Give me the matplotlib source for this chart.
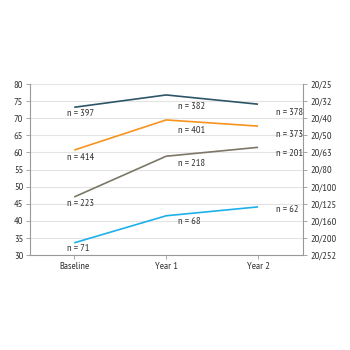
import matplotlib
matplotlib.use("Agg")
import matplotlib.pyplot as plt

categories = ["Baseline", "Year 1", "Year 2"]
dark_vals = [73.2, 76.8, 74.1]
orange_vals = [60.7, 69.5, 67.7]
gray_vals = [47.0, 58.9, 61.5]
blue_vals = [33.6, 41.5, 44.1]
dark_n = ["n=397", "n=382", "n=378"]
orange_n = ["n=414", "n=401", "n=373"]
gray_n = ["n=223", "n=218", "n=201"]
blue_n = ["n=71", "n=68", "n=62"]
left_ticks = [30, 35, 40, 45, 50, 55, 60, 65, 70, 75, 80]
right_labels = ["20/252", "20/200", "20/160", "20/125", "20/100", "20/80",
                "20/63", "20/50", "20/40", "20/32", "20/25"]

plt.rcParams['font.family'] = ['PT Sans Narrow', 'DejaVu Sans']

fig = plt.figure(figsize=(3.5, 3.5), dpi=100)
ax = fig.add_axes([0.086, 0.271, 0.780, 0.489])

series = [
    (dark_vals, dark_n, "#2d5568"),
    (orange_vals, orange_n, "#f7931e"),
    (gray_vals, gray_n, "#7d7768"),
    (blue_vals, blue_n, "#1eb0ea"),
]
xs = list(range(len(categories)))
# label x offsets per category (data units)
label_x = [-0.08, 1.13, 2.2]
# label vertical offsets per category / series (data units)
label_dy = {
    0: [-1.7, -2.2, -1.9, -1.8],
    1: [-3.5, -3.2, -2.0, -1.6],
    2: [-2.3, -2.4, -1.8, -0.9],
}
for si, (vals, ns, col) in enumerate(series):
    ax.plot(xs, vals, color=col, lw=1.2, solid_capstyle='butt')
    for ci, (v, n) in enumerate(zip(vals, ns)):
        ax.text(label_x[ci], v + label_dy[ci][si], n.replace("=", "\u2009=\u2009"),
                fontsize=7.5, color="#333333", ha="left", va="center")

ax.set_xlim(-0.48, 2.49)
ax.set_ylim(30, 80)
ax.set_yticks(left_ticks)
ax.set_xticks(xs)
ax.set_xticklabels(categories)
ax.yaxis.grid(True, color="#e3e3e3", lw=0.8)
ax.set_axisbelow(True)
for s in ["top", "right"]:
    ax.spines[s].set_visible(False)
for s in ["left", "bottom"]:
    ax.spines[s].set_color("#999999")
    ax.spines[s].set_linewidth(0.8)
ax.tick_params(axis="both", labelsize=7.5, colors="#999999", labelcolor="#333333",
               length=3, width=0.6, pad=2)

ax2 = ax.twinx()
ax2.set_ylim(30, 80)
ax2.set_yticks(left_ticks)
ax2.set_yticklabels(right_labels)
for s in ["top", "left", "bottom"]:
    ax2.spines[s].set_visible(False)
ax2.spines["right"].set_color("#999999")
ax2.spines["right"].set_linewidth(0.8)
ax2.tick_params(axis="y", labelsize=7.5, colors="#999999", labelcolor="#333333",
                length=3, width=0.6, pad=2)

fig.savefig("out.png", dpi=100, facecolor="white")
